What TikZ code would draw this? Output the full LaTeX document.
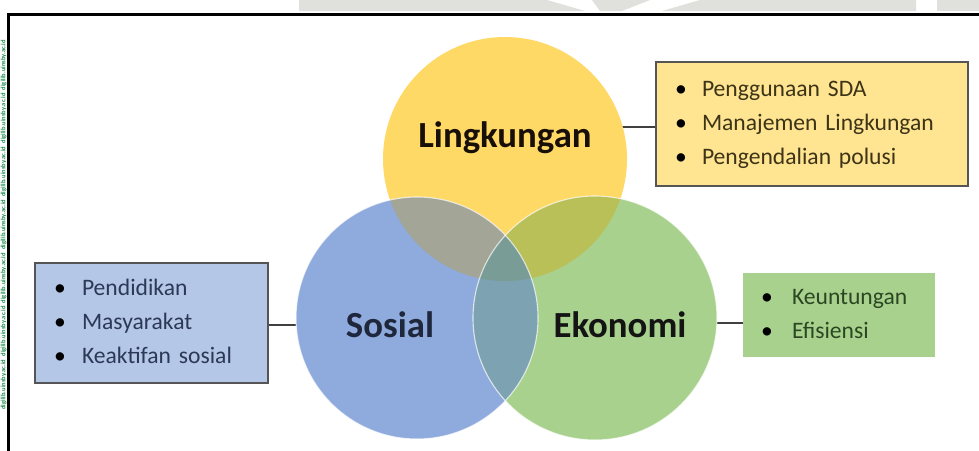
\documentclass[tikz,border=0pt]{standalone}
\usepackage{fontspec}
\setmainfont{Carlito}
\definecolor{cY}{HTML}{FFD966}
\definecolor{cB}{HTML}{8FAADC}
\definecolor{cG}{HTML}{A9D18E}
\definecolor{cYB}{HTML}{A3A597}
\definecolor{cYG}{HTML}{BAC058}
\definecolor{cBG}{HTML}{7DA2B2}
\definecolor{cYBG}{HTML}{7A9C96}
\definecolor{bY}{HTML}{FFE491}
\definecolor{bB}{HTML}{B4C7E7}
\definecolor{bG}{HTML}{A9D18E}
\definecolor{tY}{HTML}{3D3418}
\definecolor{tB}{HTML}{2C3856}
\definecolor{tG}{HTML}{2B4722}
\definecolor{bd}{HTML}{555555}
\definecolor{wm}{HTML}{E0E1DC}
\definecolor{wmgreen}{HTML}{1E8B4C}
\tikzset{
  venn/.style={circle, inner sep=0pt, minimum size=#1},
  vlabel/.style={anchor=base, font=\fontsize{36.8}{40}\selectfont\bfseries},
  infobox/.style={rectangle, inner ysep=0pt, align=left, font=\fontsize{23.6}{34}\selectfont},
  conn/.style={draw=black!75, line width=1.5pt},
  rim/.style={draw=white, draw opacity=0.7, line width=1.1pt}
}
\begin{document}
\begin{tikzpicture}[x=1pt,y=-1pt]
\useasboundingbox (0,0) rectangle (979,450);
\fill[white] (0,0) rectangle (979,450);
% watermark pieces at the top
\fill[wm] (299,0) -- (547,0) -- (585,11) -- (299,11) -- cycle;
\fill[wm] (592,0) -- (650,0) -- (622,11) -- (600,11) -- cycle;
\fill[wm] (700,0) -- (916,0) -- (916,11) -- (662,11) -- cycle;
\fill[wm] (937,0) -- (979,0) -- (979,11) -- (937,11) -- cycle;
% watermark strip at the left
\node[rotate=90, text=wmgreen, font=\fontsize{6.5}{7}\selectfont\bfseries, inner sep=0pt] (wmtext) at (3.6,225) {digilib.uinsby.ac.id\enspace digilib.uinsby.ac.id\enspace digilib.uinsby.ac.id\enspace digilib.uinsby.ac.id\enspace digilib.uinsby.ac.id\enspace digilib.uinsby.ac.id\enspace digilib.uinsby.ac.id};
% frame
\draw[line width=3.5pt] (8.7,452) -- (8.7,14.5) -- (982,14.5);

% boxes
\node[infobox, fill=bY, draw=bd, line width=1.2pt, minimum width=312pt, minimum height=124pt, text width=274pt, inner xsep=19pt, text=tY] (lbox) at (812,124)
  {\begin{tabular}{@{}p{27pt}@{}l@{}}\textcolor{black}{\textbullet} & Penggunaan SDA\\ \textcolor{black}{\textbullet} & Manajemen Lingkungan\\ \textcolor{black}{\textbullet} & Pengendalian polusi\end{tabular}};
\node[infobox, fill=bB, draw=bd, line width=1.2pt, minimum width=233pt, minimum height=120pt, text width=195pt, inner xsep=19pt, text=tB] (sbox) at (151.5,323)
  {\begin{tabular}{@{}p{28pt}@{}l@{}}\textcolor{black}{\textbullet} & Pendidikan\\ \textcolor{black}{\textbullet} & Masyarakat\\ \textcolor{black}{\textbullet} & Keaktifan sosial\end{tabular}};
\node[infobox, fill=bG, minimum width=192pt, minimum height=84pt, text width=156pt, inner xsep=18pt, text=tG] (ebox) at (839,315)
  {\begin{tabular}{@{}p{31pt}@{}l@{}}\textcolor{black}{\textbullet} & Keuntungan\\ \textcolor{black}{\textbullet} & Efisiensi\end{tabular}};

% circle centres
\coordinate (lc) at (505,159);
\coordinate (sc) at (417,318);
\coordinate (ec) at (595,318);
\draw[conn] ([yshift=-3pt]lbox.west) -- ([yshift=-3pt]lbox.west -| lc);
\draw[conn] ([yshift=-2pt]sbox.east) -- ([yshift=-2pt]sbox.east -| sc);
\draw[conn] ([yshift=-8pt]ebox.west) -- ([yshift=-8pt]ebox.west -| ec);

\node[venn=244pt, fill=cY] (ling) at (lc) {};
\node[venn=242pt, fill=cB] (sos) at (sc) {};
\node[venn=244pt, fill=cG] (eko) at (ec) {};
\begin{scope}
  \clip (lc) circle (122);
  \fill[cYB] (sc) circle (121);
  \fill[cYG] (ec) circle (122);
\end{scope}
\begin{scope}
  \clip (sc) circle (121);
  \fill[cBG] (ec) circle (122);
  \clip (lc) circle (122);
  \fill[cYBG] (ec) circle (122);
\end{scope}
\path[rim] (sc) circle (121);
\path[rim] (ec) circle (122);

\node[vlabel, text=black!88!brown] (lingt) at (505,147) {Lingkungan};
\node[vlabel, text=tB!70!black] (sost) at (390,337) {Sosial};
\node[vlabel, text=black!92] (ekot) at (620,337) {Ekonomi};
\end{tikzpicture}
\end{document}
